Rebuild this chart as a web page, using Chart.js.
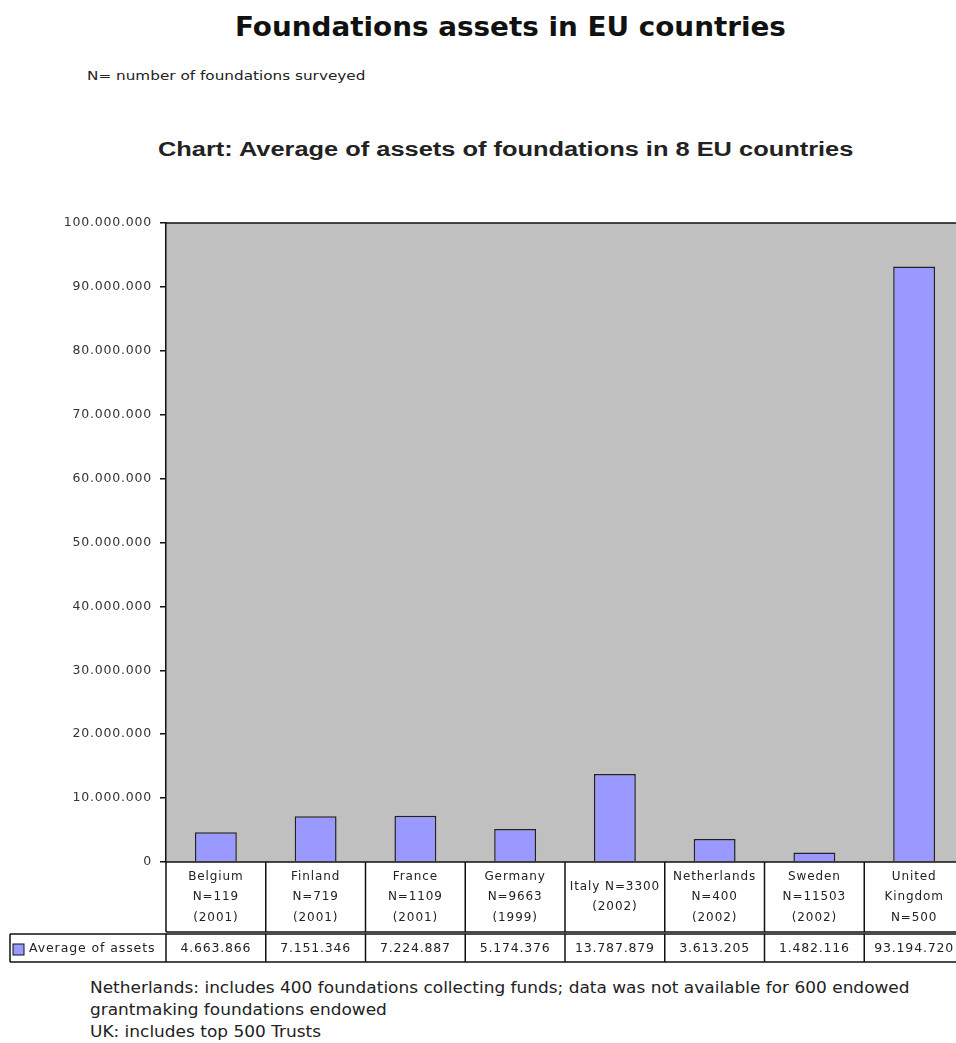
<!DOCTYPE html>
<html>
<head>
<meta charset="utf-8">
<title>Foundations assets in EU countries</title>
<script src="https://cdn.jsdelivr.net/npm/chart.js@4"></script>
<style>
  html, body { margin: 0; padding: 0; background: #fff; overflow: hidden; }
  body { width: 956px; height: 1043px; position: relative; font-family: "DejaVu Sans", Verdana, sans-serif; color: #111; }
  .wide { transform-origin: left center; white-space: nowrap; position: absolute; }
  #title { left: 235px; top: 11px; font-size: 27px; font-weight: bold; transform: scaleX(1.03); }
  #note { left: 87px; top: 68px; font-size: 12.5px; color: #222; transform: scaleX(1.22); }
  #chartTitle { left: 158px; top: 138px; font-family: "Liberation Sans", Arial, sans-serif; font-size: 20px; font-weight: bold; color: #222; transform: scaleX(1.27); }
  #wrap { position: absolute; left: 0; top: 200px; }
  #footer { left: 90px; top: 977px; font-size: 15px; line-height: 22px; color: #222; transform: scaleX(1.13); transform-origin: left top; }
</style>
</head>
<body>
<div id="title" class="wide">Foundations assets in EU countries</div>
<div id="note" class="wide">N= number of foundations surveyed</div>
<div id="chartTitle" class="wide">Chart: Average of assets of foundations in 8 EU countries</div>
<div id="wrap"><canvas id="assetsChart" width="964" height="770"></canvas></div>
<div id="footer" class="wide">Netherlands: includes 400 foundations collecting funds; data was not available for 600 endowed<br>grantmaking foundations endowed<br>UK: includes top 500 Trusts</div>

<script>
// one entry per column of the table under the bars
const countryLabels = [
  ['Belgium', 'N=119', '(2001)'],
  ['Finland', 'N=719', '(2001)'],
  ['France', 'N=1109', '(2001)'],
  ['Germany', 'N=9663', '(1999)'],
  ['Italy N=3300', '(2002)'],
  ['Netherlands', 'N=400', '(2002)'],
  ['Sweden', 'N=11503', '(2002)'],
  ['United', 'Kingdom', 'N=500']
]
const averageAssets = [4663866, 7151346, 7224887, 5174376, 13787879, 3613205, 1482116, 93194720]
const seriesName = 'Average of assets'
const yMax = 100000000
const yStep = 10000000

const BAR_FILL = '#9999ff'
const LINE = '#111'
const FONT = '"DejaVu Sans", Verdana, sans-serif'

// 93194720 -> 93.194.720
const dotted = n => String(n).replace(/\B(?=(\d{3})+(?!\d))/g, '.')

const plotBackground = {
  id: 'plotBackground',
  beforeDraw(chart) {
    const { ctx, chartArea: a } = chart
    // wider spacing for the axis labels (canvas state is reset on resize)
    ctx.letterSpacing = '0.8px'
    ctx.save()
    ctx.fillStyle = '#c0c0c0'
    ctx.fillRect(a.left, a.top, a.right - a.left, a.bottom - a.top)
    ctx.restore()
  }
}

// data table below the plot: category cells, then the series row with its legend key
const dataTable = {
  id: 'dataTable',
  afterDraw(chart) {
    const { ctx, chartArea: a, scales } = chart
    const x = scales.x
    const n = countryLabels.length
    const colW = (a.right - a.left) / n
    const top = a.bottom
    const catBottom = top + 70
    const valTop = catBottom + 2
    const valBottom = valTop + 28
    const legendLeft = 10

    ctx.save()
    ctx.strokeStyle = LINE
    ctx.lineWidth = 1.5

    ctx.beginPath()
    ctx.moveTo(a.left, a.top)
    ctx.lineTo(a.right, a.top)
    ctx.moveTo(a.left, top)
    ctx.lineTo(a.right, top)
    ctx.moveTo(a.left, catBottom)
    ctx.lineTo(a.right, catBottom)
    ctx.moveTo(legendLeft, valTop)
    ctx.lineTo(a.right, valTop)
    ctx.moveTo(legendLeft, valBottom)
    ctx.lineTo(a.right, valBottom)
    for (let i = 0; i <= n; i++) {
      const bx = a.left + i * colW
      ctx.moveTo(bx, top)
      ctx.lineTo(bx, catBottom)
      ctx.moveTo(bx, valTop)
      ctx.lineTo(bx, valBottom)
    }
    ctx.moveTo(legendLeft, valTop)
    ctx.lineTo(legendLeft, valBottom)
    ctx.stroke()

    ctx.fillStyle = '#222'
    ctx.textAlign = 'center'
    ctx.textBaseline = 'middle'

    // category names
    ctx.letterSpacing = '0.9px'
    ctx.font = '12px ' + FONT
    const lineH = 20.5
    countryLabels.forEach((lines, i) => {
      const cx = x.getPixelForValue(i)
      const mid = (top + catBottom) / 2
      const y0 = mid - (lines.length - 1) * lineH / 2
      lines.forEach((t, j) => ctx.fillText(t, cx, y0 + j * lineH))
    })

    // values row
    ctx.letterSpacing = '0.8px'
    ctx.font = '12.5px ' + FONT
    const vy = (valTop + valBottom) / 2 + 1
    averageAssets.forEach((v, i) => {
      ctx.fillText(dotted(v), x.getPixelForValue(i), vy)
    })

    // legend key
    ctx.fillStyle = BAR_FILL
    ctx.fillRect(13, vy - 5, 11, 11)
    ctx.lineWidth = 1
    ctx.strokeRect(13, vy - 5, 11, 11)
    ctx.fillStyle = '#222'
    ctx.textAlign = 'left'
    ctx.letterSpacing = '0.9px'
    ctx.font = '12.5px ' + FONT
    ctx.fillText(seriesName, 29, vy)
    ctx.restore()
  }
}

const ctx = document.getElementById('assetsChart')
const assetsChart = new Chart(ctx, {
  type: 'bar',
  data: {
    labels: countryLabels,
    datasets: [{
      label: seriesName,
      data: averageAssets,
      backgroundColor: BAR_FILL,
      borderColor: '#222',
      borderWidth: 1.5,
      barPercentage: 0.42,
      categoryPercentage: 1
    }]
  },
  options: {
    responsive: false,
    animation: false,
    devicePixelRatio: 1,
    layout: { padding: { top: 23, left: 0, right: 0, bottom: 108 } },
    plugins: {
      legend: { display: false },
      tooltip: { enabled: false },
      title: { display: false }
    },
    scales: {
      x: { display: false },
      y: {
        min: 0,
        max: yMax,
        afterFit(scale) { scale.width = 166 },
        border: { display: true, color: LINE, width: 1.5 },
        grid: { drawOnChartArea: false, tickLength: 6, color: LINE, lineWidth: 1.5 },
        ticks: {
          stepSize: yStep,
          padding: 8,
          color: '#333',
          font: { family: FONT, size: 12.5 },
          callback: v => dotted(v)
        }
      }
    }
  },
  plugins: [plotBackground, dataTable]
})
</script>
</body>
</html>
